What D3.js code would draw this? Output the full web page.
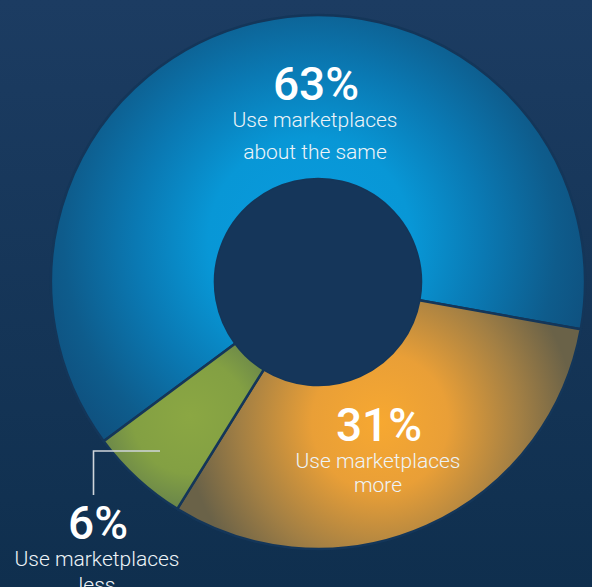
<!DOCTYPE html>
<html>
<head>
<meta charset="utf-8">
<script src="https://cdn.jsdelivr.net/npm/d3@7"></script>
<style>
  html, body { margin: 0; padding: 0; background: #15365a; }
  svg { display: block; }
  text { font-family: Roboto, "Noto Sans", sans-serif; fill: #fff; }
  .pct { font-weight: 500; font-size: 46px; }
  .sub { font-family: "Roboto Light", Roboto, sans-serif; font-weight: 300; font-size: 21px; fill: #eef4f8; }
</style>
</head>
<body>
<svg id="chart"></svg>
<script>
// marketplace usage shares
var categories = ["same", "more", "less"];
var shares = [63, 31, 6];
var pctLabels = ["63%", "31%", "6%"];
var subLabels = [
  ["Use marketplaces", "about the same"],
  ["Use marketplaces", "more"],
  ["Use marketplaces", "less"]
];

var width = 592,
  height = 587,
  cx = 318,
  cy = 282,
  innerR = 103,
  outerR = 267,
  start = -126.6 * Math.PI / 180;

var svg = d3.select("#chart")
  .attr("width", width)
  .attr("height", height);

var defs = svg.append("defs");

// page background
var bg = defs.append("linearGradient")
  .attr("id", "bg")
  .attr("x1", 0).attr("y1", 0).attr("x2", 0).attr("y2", 1);
bg.append("stop").attr("offset", 0).attr("stop-color", "#1c3c62");
bg.append("stop").attr("offset", 1).attr("stop-color", "#0f2f4e");

svg.append("rect")
  .attr("width", width)
  .attr("height", height)
  .attr("fill", "url(#bg)");

// glow per slice: centre (relative to donut centre), radius, stops
var glows = [
  {c: [-8, -42], r: 290, stops: [[0, "#0a9bdf"], [0.35, "#0897d6"], [0.6, "#0a79b3"], [0.85, "#0e5c8c"], [1, "#0f507e"]]},
  {c: [62, 140], r: 195, stops: [[0, "#f7a831"], [0.35, "#e99f37"], [0.72, "#a27f44"], [1, "#6a6248"]]},
  {c: [-128, 134], r: 115, stops: [[0, "#8ba743"], [0.5, "#83a043"], [0.8, "#6a864a"], [1, "#4e6a50"]]}
];

glows.forEach(function (g, i) {
  var grad = defs.append("radialGradient")
    .attr("id", "glow-" + categories[i])
    .attr("gradientUnits", "userSpaceOnUse")
    .attr("cx", g.c[0])
    .attr("cy", g.c[1])
    .attr("r", g.r);
  g.stops.forEach(function (s) {
    grad.append("stop").attr("offset", s[0]).attr("stop-color", s[1]);
  });
});

var pie = d3.pie()
  .sort(null)
  .startAngle(start)
  .endAngle(start + 2 * Math.PI);

var arc = d3.arc()
  .innerRadius(innerR)
  .outerRadius(outerR);

var g = svg.append("g")
  .attr("transform", "translate(" + cx + "," + cy + ")");

g.selectAll("path.slice")
  .data(pie(shares))
  .enter().append("path")
  .attr("class", "slice")
  .attr("d", arc)
  .attr("fill", function (d, i) { return "url(#glow-" + categories[i] + ")"; })
  .attr("stroke", "#143659")
  .attr("stroke-width", 2.5);

// hole
g.append("circle")
  .attr("r", innerR)
  .attr("fill", "#15365a");

// labels
var labelPos = [
  {x: 316, y: 100, lines: [127, 158.5]},
  {x: 379, y: 441, lines: [467.5, 492]},
  {x: 98, y: 539, lines: [566, 592]}
];

labelPos.forEach(function (p, i) {
  svg.append("text")
    .attr("class", "pct")
    .attr("x", p.x)
    .attr("y", p.y)
    .attr("text-anchor", "middle")
    .text(pctLabels[i]);
  subLabels[i].forEach(function (t, j) {
    svg.append("text")
      .attr("class", "sub")
      .attr("x", p.x - 1)
      .attr("y", p.lines[j])
      .attr("text-anchor", "middle")
      .text(t);
  });
});

// leader for the small slice
svg.append("path")
  .attr("d", d3.line()([[93.5, 495], [93.5, 451], [160, 451]]))
  .attr("fill", "none")
  .attr("stroke", "#cfd5db")
  .attr("stroke-width", 1.6);
</script>
</body>
</html>
